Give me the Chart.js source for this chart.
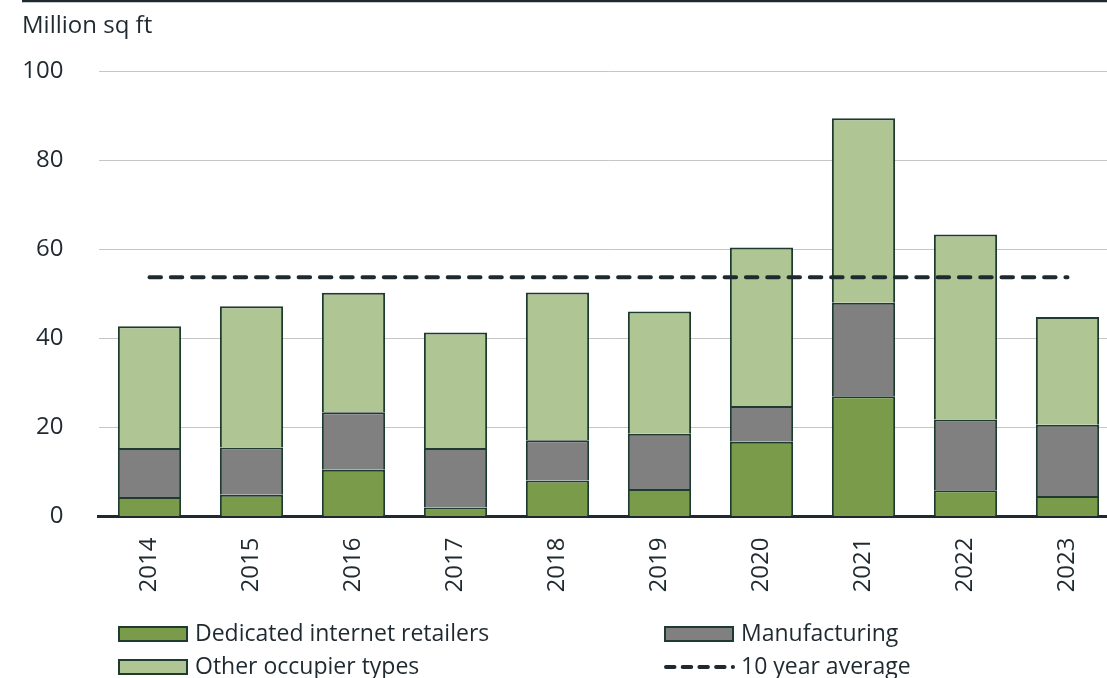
<!DOCTYPE html>
<html>
<head>
<meta charset="utf-8">
<script src="https://cdn.jsdelivr.net/npm/chart.js@4.4.1/dist/chart.umd.min.js"></script>
<style>
  html, body { margin: 0; padding: 0; background: #ffffff; overflow: hidden; width: 1107px; height: 678px; }
  #wrap { position: relative; width: 1120px; height: 678px; }
  canvas { display: block; }
</style>
</head>
<body>
<div id="wrap"><canvas id="c" width="1120" height="678" style="width:1120px;height:678px"></canvas></div>
<script>
// ---- Data ----
const years = ['2014', '2015', '2016', '2017', '2018', '2019', '2020', '2021', '2022', '2023'];
const internetRetailers = [4.4, 4.9, 10.5, 2.0, 8.1, 6.2, 16.8, 27.0, 5.9, 4.6];
const manufacturing = [11.0, 10.6, 12.9, 13.4, 9.0, 12.4, 8.0, 21.0, 15.9, 16.0];
const otherOccupiers = [27.3, 31.7, 26.8, 25.9, 33.2, 27.4, 35.6, 41.4, 41.5, 24.2];
const tenYearAverage = [53.7, 53.7, 53.7, 53.7, 53.7, 53.7, 53.7, 53.7, 53.7, 53.7];
const yTicks = [0, 20, 40, 60, 80, 100];
const unitLabel = 'Million sq ft';
const seriesNames = ['Dedicated internet retailers', 'Manufacturing', 'Other occupier types', '10 year average'];

const INK = '#1f2a30';
const EDGE = '#1f3a30';
const C_DARK = '#7a9c4a';
const C_GREY = '#808080';
const C_LIGHT = '#afc594';
const FONT = "'Open Sans', 'DejaVu Sans', sans-serif";
const DASH = [11.5, 9.8];

const decorPlugin = {
  id: 'decor',
  afterDraw(chart) {
    const ctx = chart.ctx;
    ctx.save();
    // top rule
    ctx.strokeStyle = INK;
    ctx.lineWidth = 2.5;
    ctx.beginPath();
    ctx.moveTo(22, 1);
    ctx.lineTo(chart.width, 1);
    ctx.stroke();
    // unit label
    ctx.fillStyle = INK;
    ctx.font = '24px ' + FONT;
    ctx.textAlign = 'left';
    ctx.textBaseline = 'alphabetic';
    ctx.fillText(unitLabel, 22, 33);
    // legend (2 x 2 grid)
    const pos = [[118, 634], [664, 634], [118, 667], [664, 667]];
    ctx.font = '23px ' + FONT;
    ctx.textBaseline = 'middle';
    chart.data.datasets.forEach((ds, i) => {
      const [x, y] = pos[i];
      if (ds.type === 'line') {
        ctx.strokeStyle = ds.borderColor;
        ctx.lineWidth = 4;
        ctx.lineCap = 'round';
        ctx.setLineDash([8.5, 8.2]);
        ctx.beginPath();
        ctx.moveTo(x + 2, y);
        ctx.lineTo(x + 69, y);
        ctx.stroke();
        ctx.setLineDash([]);
        ctx.lineCap = 'butt';
      } else {
        ctx.fillStyle = ds.backgroundColor;
        ctx.fillRect(x, y - 8, 70, 16);
        ctx.strokeStyle = EDGE;
        ctx.lineWidth = 2;
        ctx.strokeRect(x + 1, y - 7, 68, 14);
      }
      ctx.fillStyle = INK;
      ctx.fillText(ds.label, x + 77, y);
    });
    ctx.restore();
  }
};

new Chart(document.getElementById('c'), {
  data: {
    labels: years,
    datasets: [
      { type: 'bar', label: seriesNames[0], data: internetRetailers, backgroundColor: C_DARK, borderColor: EDGE, borderWidth: 2, stack: 's', order: 1 },
      { type: 'bar', label: seriesNames[1], data: manufacturing, backgroundColor: C_GREY, borderColor: EDGE, borderWidth: 2, stack: 's', order: 1 },
      { type: 'bar', label: seriesNames[2], data: otherOccupiers, backgroundColor: C_LIGHT, borderColor: EDGE, borderWidth: 2, stack: 's', order: 1 },
      { type: 'line', label: seriesNames[3], data: tenYearAverage, borderColor: INK, borderWidth: 4, borderDash: DASH, borderCapStyle: 'round', pointRadius: 0, fill: false, stack: 'avg', order: 0 }
    ]
  },
  options: {
    responsive: false,
    animation: false,
    devicePixelRatio: 1,
    layout: { padding: { left: 22, right: 1.5, top: 71, bottom: 86.5 } },
    datasets: { bar: { barPercentage: 0.62, categoryPercentage: 1.0 } },
    plugins: { legend: { display: false }, tooltip: { enabled: false }, title: { display: false } },
    scales: {
      x: {
        stacked: true,
        grid: { display: false, drawTicks: false },
        border: { display: true, color: INK, width: 3 },
        ticks: { color: INK, font: { family: FONT, size: 24 }, minRotation: 90, maxRotation: 90, padding: 21, autoSkip: false },
        afterFit(scale) { scale.paddingLeft = 0; scale.paddingRight = 0; scale.height = 75; }
      },
      y: {
        stacked: true,
        min: 0, max: 100,
        afterBuildTicks(axis) { axis.ticks = yTicks.map(v => ({ value: v })); },
        grid: { color: '#c6c6c6', lineWidth: 1, drawTicks: false },
        border: { display: false },
        ticks: { color: INK, font: { family: FONT, size: 24 }, padding: 35 },
        afterFit(scale) { scale.width = 76.5; scale.paddingTop = 0; scale.paddingBottom = 0; }
      }
    }
  },
  plugins: [decorPlugin]
});
</script>
</body>
</html>
